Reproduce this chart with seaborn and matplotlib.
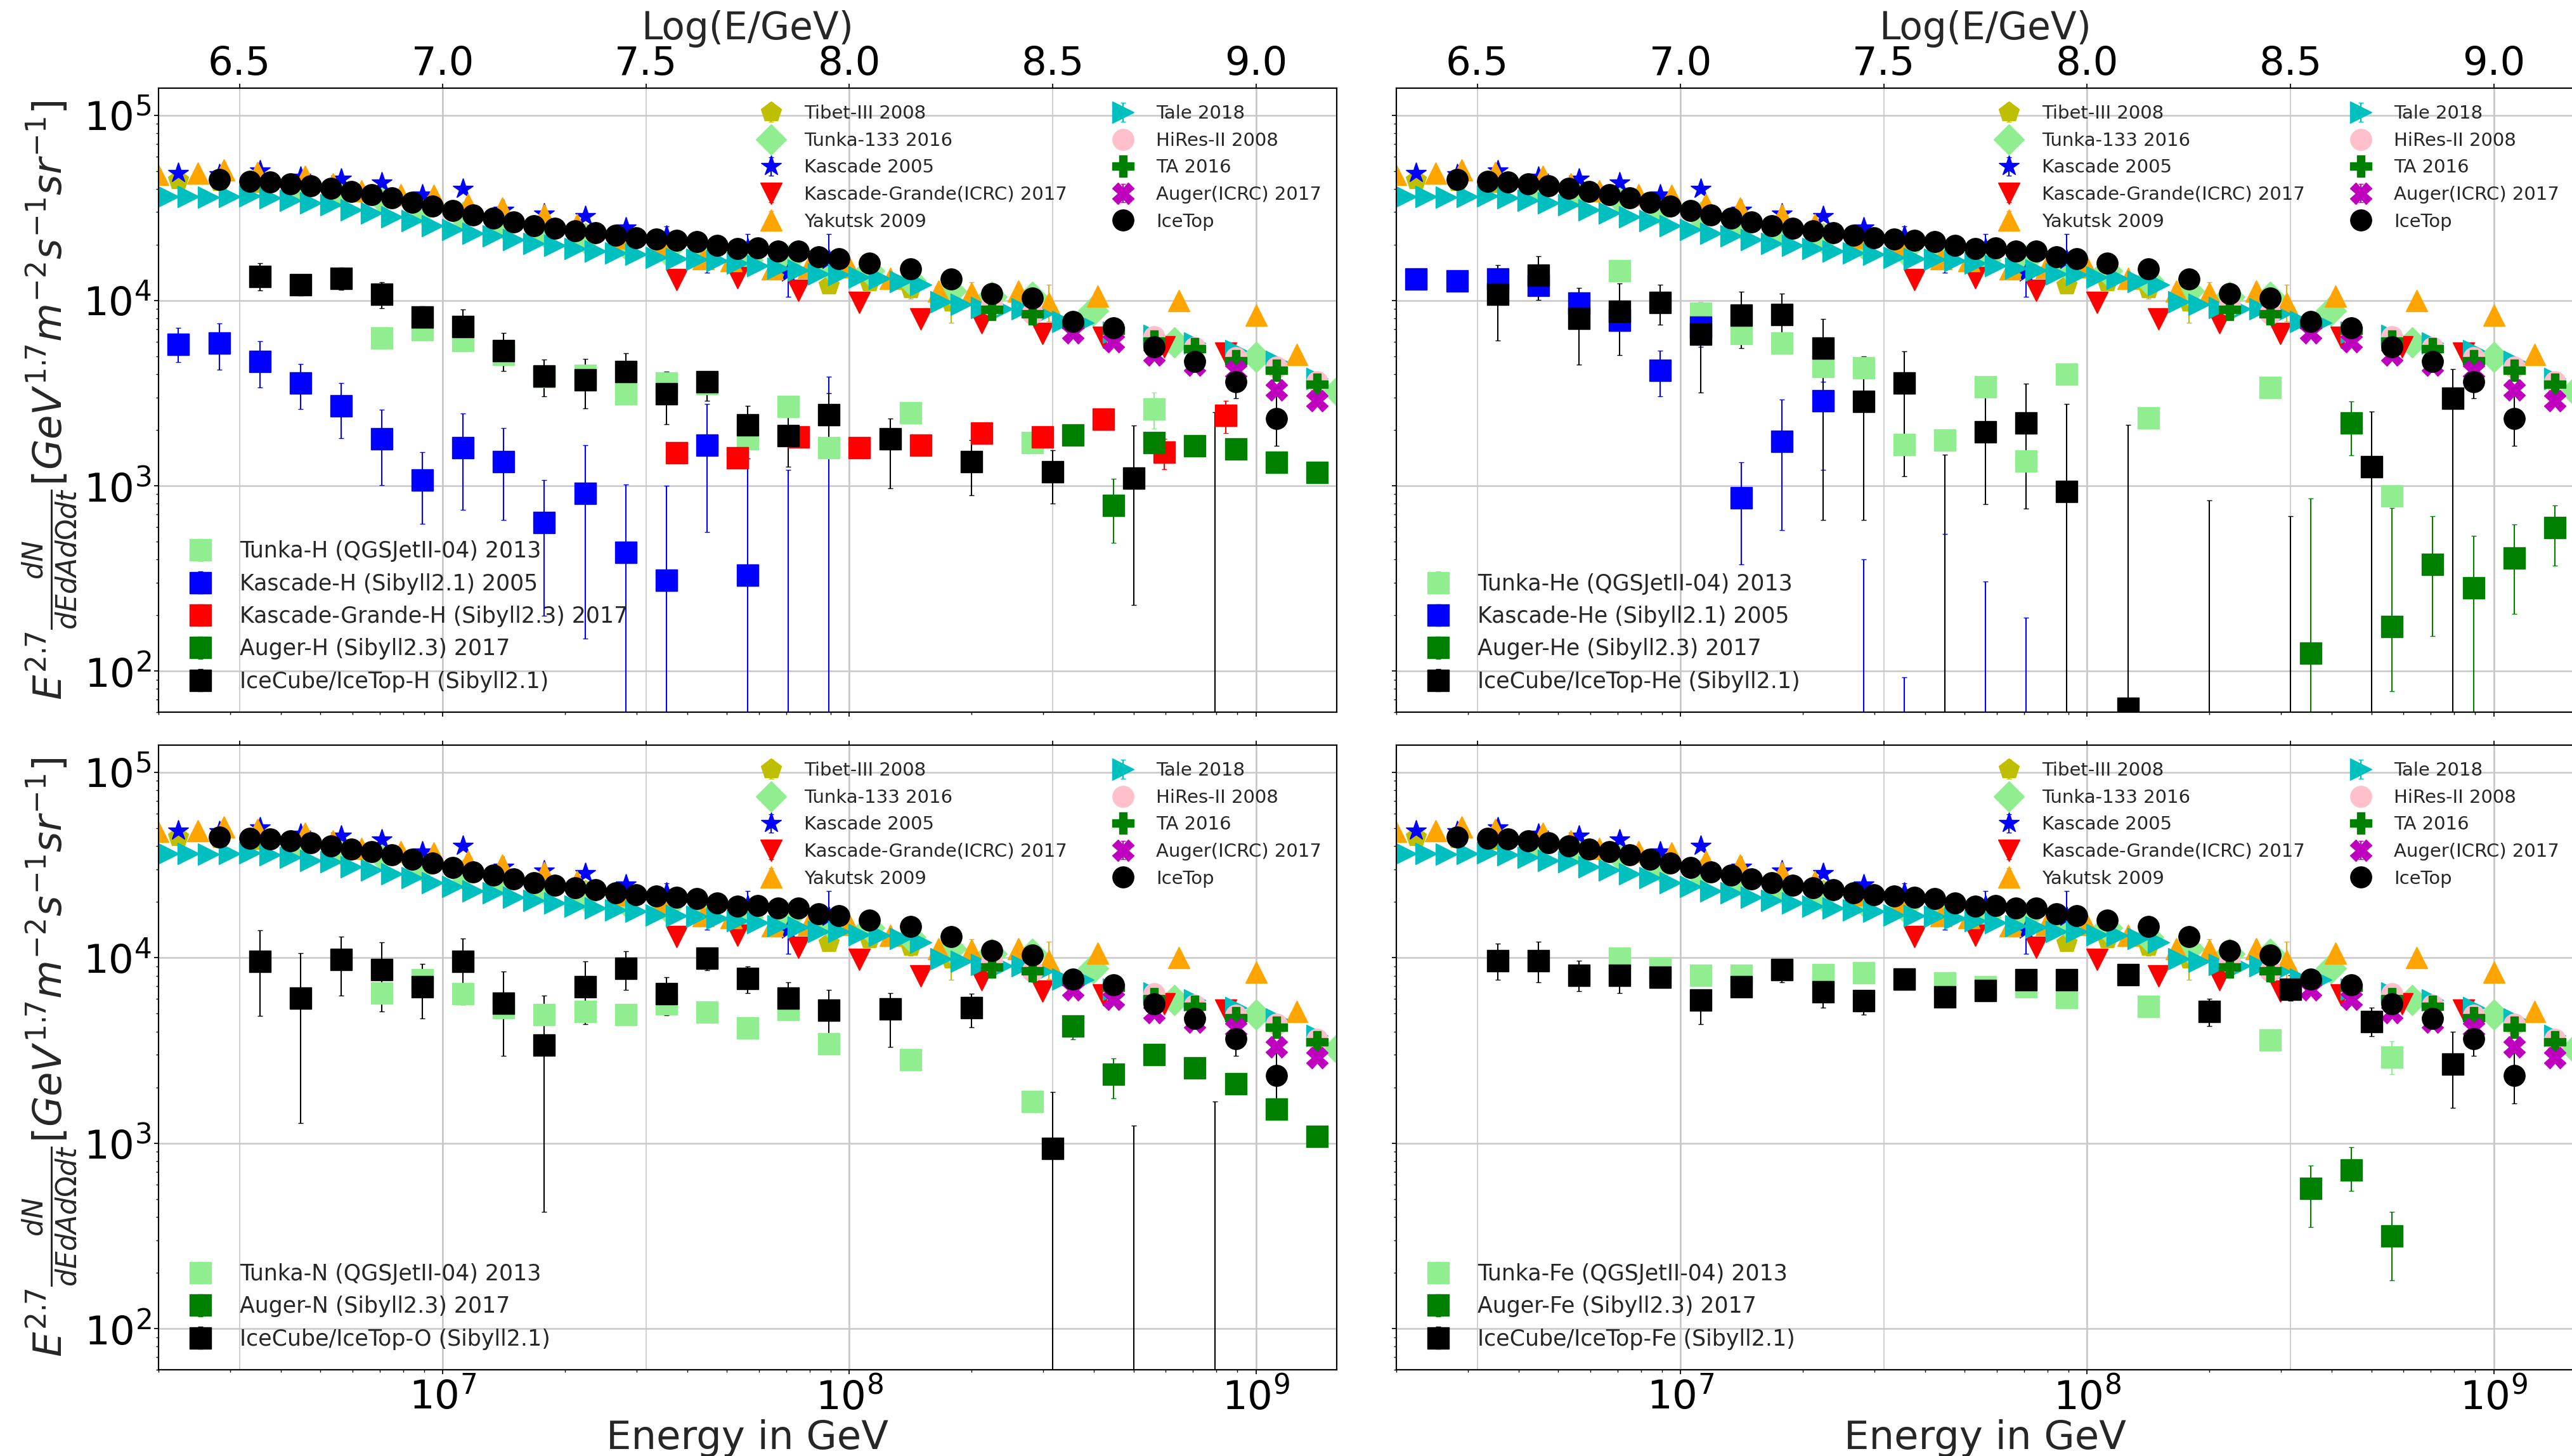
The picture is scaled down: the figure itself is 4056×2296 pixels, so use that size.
import numpy as np
import matplotlib
matplotlib.use("Agg")
import matplotlib.pyplot as plt
from matplotlib.ticker import FormatStrFormatter
import seaborn as sns

# ------------------------------------------------------------------
# All-particle spectra.  lgE = log10(E/GeV), lgF = log10(E^2.7 dN/dE...)
# ------------------------------------------------------------------
tibet_lgE = [6.35, 6.45, 6.55, 6.65, 6.75, 6.85, 6.95, 7.05, 7.15, 7.25,
             7.35, 7.45, 7.55, 7.65, 7.75, 7.85, 7.95, 8.05, 8.15, 8.25]
tibet_lgF = [4.65, 4.64, 4.63, 4.61, 4.59, 4.56, 4.52, 4.47, 4.43, 4.40,
             4.36, 4.32, 4.29, 4.22, 4.20, 4.17, 4.08, 4.10, 4.06, 3.99]
tibet_err = [0.01, 0.01, 0.01, 0.01, 0.01, 0.01, 0.01, 0.01, 0.01, 0.01,
             0.01, 0.01, 0.01, 0.01, 0.01, 0.01, 0.02, 0.03, 0.05, 0.11]

tunka133_lgE = [6.65, 6.75, 6.85, 6.95, 7.05, 7.15, 7.25, 7.35, 7.45, 7.55,
                7.65, 7.75, 7.85, 7.95, 8.05, 8.15, 8.25, 8.35, 8.45, 8.60,
                8.80, 9.00, 9.20]
tunka133_lgF = [4.61, 4.58, 4.55, 4.49, 4.45, 4.41, 4.37, 4.33, 4.30, 4.27,
                4.25, 4.22, 4.22, 4.19, 4.16, 4.11, 4.05, 4.02, 4.02, 3.944,
                3.773, 3.694, 3.51]

kascade_lgE = [6.35, 6.45, 6.55, 6.65, 6.75, 6.85, 6.95, 7.05, 7.15, 7.25,
               7.35, 7.45, 7.55, 7.65, 7.75, 7.85, 7.95]
kascade_lgF = [4.686, 4.68, 4.70, 4.667, 4.658, 4.637, 4.57, 4.603, 4.49, 4.468,
               4.454, 4.393, 4.35, 4.211, 4.28, 4.15, 4.22]
kascade_err = [0.01, 0.01, 0.01, 0.01, 0.01, 0.01, 0.01, 0.01, 0.01, 0.01,
               0.02, 0.02, 0.05, 0.06, 0.08, 0.13, 0.14]

kg_lgE = [7.575, 7.725, 7.875, 8.025, 8.175, 8.325, 8.475, 8.625, 8.775, 8.925]
kg_lgF = [4.113, 4.122, 4.055, 3.99, 3.90, 3.88, 3.82, 3.80, 3.75, 3.716]
kg_err = [0.01, 0.01, 0.01, 0.01, 0.01, 0.01, 0.01, 0.02, 0.02, 0.03]

yakutsk_lgE = [6.30, 6.397, 6.462, 6.545, 6.662, 6.73, 6.80, 6.896, 6.978, 7.062,
               7.147, 7.25, 7.33, 7.44, 7.54, 7.64, 7.71, 7.81, 7.90, 8.00,
               8.10, 8.22, 8.30, 8.415, 8.49, 8.61, 8.81, 9.00, 9.10]
yakutsk_lgF = [4.681, 4.686, 4.706, 4.69, 4.672, 4.63, 4.59, 4.57, 4.566, 4.52,
               4.50, 4.46, 4.41, 4.34, 4.29, 4.225, 4.215, 4.17, 4.177, 4.18,
               4.12, 4.05, 4.04, 4.05, 3.985, 4.024, 4.00, 3.922, 3.71]
yakutsk_err = [0.01, 0.01, 0.01, 0.01, 0.01, 0.01, 0.01, 0.01, 0.01, 0.01,
               0.01, 0.01, 0.01, 0.01, 0.01, 0.01, 0.01, 0.01, 0.01, 0.01,
               0.02, 0.03, 0.06, 0.03, 0.10, 0.03, 0.03, 0.03, 0.03]

tale_lgE = [6.325, 6.375, 6.425, 6.475, 6.525, 6.575, 6.625, 6.675, 6.725, 6.775,
            6.825, 6.875, 6.925, 6.975, 7.025, 7.075, 7.125, 7.175, 7.225, 7.275,
            7.325, 7.375, 7.425, 7.475, 7.525, 7.575, 7.625, 7.675, 7.725, 7.775,
            7.825, 7.875, 7.925, 7.975, 8.025, 8.075, 8.125, 8.175, 8.225, 8.275,
            8.325, 8.375, 8.425, 8.475, 8.525, 8.575, 8.65, 8.75, 8.85, 8.95,
            9.05, 9.15]
tale_lgF = [4.561, 4.561, 4.559, 4.562, 4.564, 4.555, 4.542, 4.525, 4.517, 4.490,
            4.473, 4.453, 4.430, 4.405, 4.384, 4.361, 4.348, 4.327, 4.308, 4.296,
            4.279, 4.268, 4.256, 4.250, 4.231, 4.226, 4.222, 4.214, 4.200, 4.188,
            4.173, 4.165, 4.142, 4.140, 4.125, 4.120, 4.102, 4.084, 3.993, 3.980,
            3.962, 3.956, 3.956, 3.926, 3.885, 3.880, 3.830, 3.810, 3.770, 3.730,
            3.670, 3.580]

hires_lgE = [8.35, 8.45, 8.55, 8.65, 8.75, 8.85, 8.95, 9.05, 9.15]
hires_lgF = [3.976, 3.93, 3.88, 3.83, 3.805, 3.745, 3.69, 3.64, 3.56]

ta_lgE = [8.35, 8.45, 8.55, 8.65, 8.75, 8.85, 8.95, 9.05, 9.15]
ta_lgF = [3.95, 3.928, 3.87, 3.84, 3.78, 3.738, 3.675, 3.624, 3.546]

auger_lgE = [8.55, 8.65, 8.75, 8.85, 8.95, 9.05, 9.15]
auger_lgF = [3.826, 3.776, 3.704, 3.651, 3.619, 3.518, 3.46]
auger_err = [0.01, 0.01, 0.01, 0.01, 0.015, 0.02, 0.025]

icetop_lgE = [6.45, 6.525, 6.575, 6.625, 6.675, 6.725, 6.775, 6.825, 6.875, 6.925,
              6.975, 7.025, 7.075, 7.125, 7.175, 7.225, 7.275, 7.325, 7.375, 7.425,
              7.475, 7.525, 7.575, 7.625, 7.675, 7.725, 7.775, 7.825, 7.875, 7.925,
              7.975, 8.05, 8.15, 8.25, 8.35, 8.45, 8.55, 8.65, 8.75, 8.85,
              8.95, 9.05]
icetop_lgF = [4.652, 4.644, 4.639, 4.629, 4.618, 4.604, 4.587, 4.571, 4.553, 4.530,
              4.510, 4.485, 4.462, 4.444, 4.423, 4.405, 4.391, 4.376, 4.365, 4.351,
              4.339, 4.331, 4.325, 4.317, 4.296, 4.279, 4.282, 4.266, 4.266, 4.237,
              4.227, 4.202, 4.169, 4.115, 4.038, 4.013, 3.886, 3.852, 3.751, 3.672,
              3.562, 3.364]
icetop_err = [0.0, 0.0, 0.0, 0.0, 0.0, 0.0, 0.0, 0.0, 0.0, 0.0,
              0.0, 0.0, 0.0, 0.0, 0.0, 0.0, 0.0, 0.0, 0.0, 0.0,
              0.0, 0.0, 0.0, 0.0, 0.0, 0.0, 0.0, 0.0, 0.0, 0.0,
              0.0, 0.0, 0.0, 0.01, 0.01, 0.01, 0.02, 0.02, 0.03, 0.04,
              0.09, 0.15]

# ------------------------------------------------------------------
# Mass-group spectra: centre, upper and lower ends of the error bar (log10)
# ------------------------------------------------------------------
# proton
tunkaH_lgE = [6.85, 6.95, 7.05, 7.15, 7.25, 7.35, 7.45, 7.55, 7.65, 7.75, 7.85, 7.95, 8.15, 8.45, 8.75]
tunkaH_lgF = [3.797, 3.843, 3.783, 3.709, 3.59, 3.595, 3.497, 3.555, 3.55, 3.254, 3.427, 3.204, 3.395, 3.233, 3.415]
tunkaH_hi = [3.82, 3.865, 3.805, 3.73, 3.61, 3.615, 3.52, 3.575, 3.57, 3.28, 3.45, 3.23, 3.42, 3.26, 3.502]
tunkaH_lo = [3.775, 3.82, 3.76, 3.69, 3.57, 3.575, 3.475, 3.535, 3.53, 3.23, 3.40, 3.18, 3.37, 3.21, 3.308]

kasH_lgE = [6.35, 6.45, 6.55, 6.65, 6.75, 6.85, 6.95, 7.05, 7.15, 7.25, 7.35, 7.45, 7.55, 7.65, 7.75, 7.85, 7.95]
kasH_lgF = [3.764, 3.77, 3.672, 3.553, 3.43, 3.254, 3.03, 3.204, 3.13, 2.80, 2.958, 2.642, 2.49, 3.219, 2.516, 1.5, 1.5]
kasH_hi = [3.852, 3.877, 3.78, 3.658, 3.555, 3.412, 3.182, 3.389, 3.31, 3.03, 3.22, 3.006, 3.0, 3.44, 3.146, 3.087, 3.59]
kasH_lo = [3.667, 3.627, 3.529, 3.415, 3.257, 3.003, 2.795, 2.87, 2.815, 2.30, 2.175, 0.0, 0.0, 2.749, 0.0, 0.0, 0.0]

kgH_lgE = [7.575, 7.725, 7.875, 8.025, 8.175, 8.325, 8.475, 8.625, 8.775, 8.925]
kgH_lgF = [3.179, 3.15, 3.262, 3.205, 3.218, 3.285, 3.262, 3.36, 3.181, 3.38]
kgH_hi = [3.20, 3.17, 3.28, 3.225, 3.24, 3.305, 3.28, 3.38, 3.254, 3.458]
kgH_lo = [3.16, 3.13, 3.24, 3.185, 3.20, 3.265, 3.24, 3.34, 3.089, 3.284]

augH_lgE = [8.55, 8.65, 8.75, 8.85, 8.95, 9.05, 9.15]
augH_lgF = [3.275, 2.894, 3.232, 3.215, 3.199, 3.126, 3.071]
augH_hi = [3.30, 3.037, 3.25, 3.235, 3.215, 3.145, 3.09]
augH_lo = [3.22, 2.692, 3.21, 3.195, 3.18, 3.105, 3.05]

icH_lgE = [6.55, 6.65, 6.75, 6.85, 6.95, 7.05, 7.15, 7.25, 7.35, 7.45,
           7.55, 7.65, 7.75, 7.85, 7.95, 8.1, 8.3, 8.5, 8.7, 8.9]
icH_lgF = [4.131, 4.086, 4.12, 4.034, 3.909, 3.86, 3.73, 3.592, 3.57, 3.616,
           3.498, 3.56, 3.33, 3.271, 3.384, 3.253, 3.129, 3.077, 3.042, 1.5]
icH_hi = [4.20, 4.139, 4.177, 4.10, 3.969, 3.95, 3.824, 3.68, 3.686, 3.716,
          3.616, 3.61, 3.432, 3.375, 3.50, 3.363, 3.245, 3.193, 3.326, 3.398]
icH_lo = [4.054, 4.028, 4.057, 3.96, 3.85, 3.77, 3.619, 3.483, 3.418, 3.52,
          3.333, 3.46, 3.20, 3.104, 3.18, 2.985, 2.95, 2.905, 2.358, 0.0]

# helium
tunkaHe_lgE = [6.85, 7.05, 7.15, 7.25, 7.35, 7.45, 7.55, 7.65, 7.75, 7.85, 7.95, 8.15, 8.45, 8.75]
tunkaHe_lgF = [4.16, 3.93, 3.82, 3.77, 3.642, 3.638, 3.224, 3.247, 3.534, 3.135, 3.604, 3.366, 3.53, 2.945]
tunkaHe_hi = [4.18, 3.95, 3.84, 3.79, 3.66, 3.66, 3.245, 3.27, 3.555, 3.16, 3.625, 3.39, 3.55, 3.0]
tunkaHe_lo = [4.14, 3.91, 3.80, 3.75, 3.62, 3.62, 3.20, 3.225, 3.51, 3.11, 3.58, 3.34, 3.51, 2.89]

kasHe_lgE = [6.35, 6.45, 6.55, 6.65, 6.75, 6.85, 6.95, 7.05, 7.15, 7.25, 7.35, 7.45, 7.55, 7.65, 7.75, 7.85]
kasHe_lgF = [4.117, 4.105, 4.115, 4.083, 3.985, 3.895, 3.622, 3.855, 2.934, 3.241, 3.458, 1.5, 1.5, 1.5, 1.5, 1.5]
kasHe_hi = [4.14, 4.13, 4.14, 4.11, 4.01, 3.92, 3.728, 3.88, 3.126, 3.465, 3.56, 2.603, 1.965, 2.74, 2.484, 2.288]
kasHe_lo = [4.09, 4.08, 4.09, 4.055, 3.96, 3.86, 3.484, 3.75, 2.574, 2.759, 3.087, 0.0, 0.0, 0.0, 0.0, 0.0]

augHe_lgE = [8.55, 8.65, 8.75, 8.85, 8.95, 9.05, 9.15]
augHe_lgF = [2.097, 3.339, 2.239, 2.575, 2.45, 2.609, 2.774]
augHe_hi = [2.93, 3.457, 2.88, 2.836, 2.729, 2.792, 2.893]
augHe_lo = [0.0, 3.164, 1.89, 2.188, 0.0, 2.308, 2.568]

icHe_lgE = [6.55, 6.65, 6.75, 6.85, 6.95, 7.05, 7.15, 7.25, 7.35, 7.45,
            7.55, 7.65, 7.75, 7.85, 7.95, 8.1, 8.3, 8.5, 8.7, 8.9]
icHe_lgF = [4.034, 4.136, 3.904, 3.94, 3.99, 3.818, 3.921, 3.924, 3.742, 3.455,
            3.556, 1.5, 3.29, 3.34, 2.97, 1.80, 1.5, 1.5, 3.103, 3.474]
icHe_hi = [4.19, 4.238, 4.067, 4.092, 4.084, 3.99, 4.047, 4.037, 3.90, 3.698,
           3.726, 3.168, 3.49, 3.55, 3.441, 3.33, 2.922, 2.835, 3.40, 3.63]
icHe_lo = [3.783, 4.003, 3.655, 3.706, 3.869, 3.504, 3.742, 3.80, 2.815, 2.814,
           3.05, 0.0, 2.90, 2.877, 0.0, 0.0, 0.0, 0.0, 0.0, 0.0]

# nitrogen / oxygen
tunkaN_lgE = [6.85, 6.95, 7.05, 7.15, 7.25, 7.35, 7.45, 7.55, 7.65, 7.75, 7.85, 7.95, 8.15, 8.45]
tunkaN_lgF = [3.81, 3.88, 3.805, 3.73, 3.693, 3.711, 3.693, 3.75, 3.706, 3.622, 3.719, 3.536, 3.451, 3.224]
tunkaN_hi = [3.83, 3.90, 3.825, 3.75, 3.713, 3.731, 3.713, 3.77, 3.726, 3.642, 3.739, 3.556, 3.471, 3.25]
tunkaN_lo = [3.79, 3.86, 3.785, 3.71, 3.673, 3.691, 3.673, 3.73, 3.686, 3.602, 3.699, 3.516, 3.431, 3.20]

augN_lgE = [8.55, 8.65, 8.75, 8.85, 8.95, 9.05, 9.15]
augN_lgF = [3.633, 3.372, 3.479, 3.406, 3.32, 3.185, 3.036]
augN_hi = [3.66, 3.458, 3.50, 3.425, 3.34, 3.205, 3.055]
augN_lo = [3.56, 3.242, 3.455, 3.385, 3.30, 3.165, 3.015]

icO_lgE = [6.55, 6.65, 6.75, 6.85, 6.95, 7.05, 7.15, 7.25, 7.35, 7.45,
           7.55, 7.65, 7.75, 7.85, 7.95, 8.1, 8.3, 8.5, 8.7, 8.9]
icO_lgF = [3.979, 3.781, 3.99, 3.935, 3.844, 3.979, 3.755, 3.529, 3.844, 3.943,
           3.805, 3.997, 3.888, 3.781, 3.716, 3.724, 3.732, 2.971, 1.5, 1.5]
icO_hi = [4.148, 4.026, 4.115, 4.083, 3.966, 4.104, 3.924, 3.797, 3.979, 4.034,
          3.896, 4.044, 3.953, 3.867, 3.828, 3.81, 3.805, 3.276, 3.094, 3.224]
icO_lo = [3.685, 3.107, 3.797, 3.711, 3.674, 3.747, 3.471, 2.63, 3.643, 3.828,
          3.688, 3.932, 3.81, 3.674, 3.581, 3.518, 3.625, 0.0, 0.0, 0.0]

# iron
tunkaFe_lgE = [6.85, 6.95, 7.05, 7.15, 7.25, 7.35, 7.45, 7.55, 7.65, 7.75, 7.85, 7.95, 8.15, 8.45, 8.75]
tunkaFe_lgF = [3.998, 3.943, 3.905, 3.905, 3.935, 3.91, 3.918, 3.885, 3.863, 3.843, 3.843, 3.785, 3.738, 3.555, 3.465]
tunkaFe_hi = [4.018, 3.963, 3.925, 3.925, 3.955, 3.93, 3.938, 3.905, 3.883, 3.863, 3.863, 3.805, 3.758, 3.575, 3.55]
tunkaFe_lo = [3.978, 3.923, 3.885, 3.885, 3.915, 3.89, 3.898, 3.865, 3.843, 3.823, 3.823, 3.765, 3.718, 3.535, 3.37]

augFe_lgE = [8.55, 8.65, 8.75]
augFe_lgF = [2.755, 2.855, 2.498]
augFe_hi = [2.88, 2.98, 2.63]
augFe_lo = [2.548, 2.743, 2.26]

icFe_lgE = [6.55, 6.65, 6.75, 6.85, 6.95, 7.05, 7.15, 7.25, 7.35, 7.45,
            7.55, 7.65, 7.75, 7.85, 7.95, 8.1, 8.3, 8.5, 8.7, 8.9]
icFe_lgF = [3.985, 3.985, 3.905, 3.905, 3.893, 3.773, 3.843, 3.935, 3.815, 3.768,
            3.885, 3.788, 3.823, 3.88, 3.88, 3.91, 3.71, 3.83, 3.655, 3.425]
icFe_hi = [4.075, 4.085, 3.985, 3.955, 3.943, 3.823, 3.893, 3.99, 3.868, 3.818,
           3.92, 3.83, 3.86, 3.93, 3.93, 3.95, 3.78, 3.905, 3.73, 3.60]
icFe_lo = [3.88, 3.868, 3.818, 3.81, 3.843, 3.643, 3.793, 3.868, 3.73, 3.693,
           3.85, 3.75, 3.79, 3.84, 3.84, 3.87, 3.63, 3.768, 3.575, 3.192]

top_ticks = [6.5, 7.0, 7.5, 8.0, 8.5, 9.0]
E_RANGE = (2.0e6, 1.58e9)
F_RANGE = (60.0, 1.4e5)

# ------------------------------------------------------------------
sns.set_theme(style="ticks", color_codes=False, rc={
    "axes.edgecolor": "black",
    "axes.linewidth": 1.5,
    "grid.color": "#c0c0c0",
    "xtick.color": "black",
    "ytick.color": "black",
    "xtick.direction": "out",
    "ytick.direction": "out",
    "xtick.major.size": 5,
    "ytick.major.size": 5,
    "xtick.minor.size": 3,
    "ytick.minor.size": 3,
    "lines.linewidth": 1.5,
})
plt.rcParams["font.family"] = ["DejaVu Sans"]
plt.rcParams["mathtext.fontset"] = "dejavusans"

# classic single-letter colours
C_Y = "#bfbf00"
C_C = "#00bfbf"
C_M = "#bf00bf"
C_G = "#008000"

TICK_FS = 45
LABEL_FS = 45
MS = 24


def plot_sym(ax, lgE, lgF, err=None, **kw):
    E = 10 ** np.asarray(lgE)
    F = 10 ** np.asarray(lgF)
    yerr = None
    if err is not None:
        e = np.asarray(err)
        yerr = [F - 10 ** (np.asarray(lgF) - e), 10 ** (np.asarray(lgF) + e) - F]
    return ax.errorbar(E, F, yerr=yerr, linestyle="none", markersize=MS,
                       capsize=3, elinewidth=1.5, **kw)


def plot_band(ax, lgE, lgF, lo, hi, **kw):
    E = 10 ** np.asarray(lgE)
    F = 10 ** np.asarray(lgF)
    yerr = [F - 10 ** np.asarray(lo), 10 ** np.asarray(hi) - F]
    return ax.errorbar(E, F, yerr=yerr, linestyle="none", marker="s",
                       markersize=MS, capsize=3, elinewidth=1.5, **kw)


def all_particle(ax):
    h = []
    h.append(plot_sym(ax, tibet_lgE, tibet_lgF, tibet_err, marker="p", color=C_Y, label="Tibet-III 2008"))
    h.append(plot_sym(ax, tunka133_lgE, tunka133_lgF, None, marker="D", color="lightgreen", label="Tunka-133 2016"))
    h.append(plot_sym(ax, kascade_lgE, kascade_lgF, kascade_err, marker="*", color="blue", label="Kascade 2005"))
    h.append(plot_sym(ax, kg_lgE, kg_lgF, kg_err, marker="v", color="red", label="Kascade-Grande(ICRC) 2017"))
    h.append(plot_sym(ax, yakutsk_lgE, yakutsk_lgF, yakutsk_err, marker="^", color="orange", label="Yakutsk 2009"))
    h.append(plot_sym(ax, tale_lgE, tale_lgF, [0.01] * len(tale_lgE), marker=">", color=C_C, label="Tale 2018"))
    h.append(plot_sym(ax, hires_lgE, hires_lgF, None, marker="o", color="pink", label="HiRes-II 2008"))
    h.append(plot_sym(ax, ta_lgE, ta_lgF, None, marker="P", color=C_G, label="TA 2016"))
    h.append(plot_sym(ax, auger_lgE, auger_lgF, auger_err, marker="X", color=C_M, label="Auger(ICRC) 2017"))
    h.append(plot_sym(ax, icetop_lgE, icetop_lgF, icetop_err, marker="o", color="black", label="IceTop"))
    return h


panels = [
    # (position, composition series, top row?, left column?)
    ([250 / 4056, 1173 / 2296, 1858 / 4056, 984 / 2296], [
        (tunkaH_lgE, tunkaH_lgF, tunkaH_lo, tunkaH_hi, "lightgreen", "Tunka-H (QGSJetII-04) 2013"),
        (kasH_lgE, kasH_lgF, kasH_lo, kasH_hi, "blue", "Kascade-H (Sibyll2.1) 2005"),
        (kgH_lgE, kgH_lgF, kgH_lo, kgH_hi, "red", "Kascade-Grande-H (Sibyll2.3) 2017"),
        (augH_lgE, augH_lgF, augH_lo, augH_hi, C_G, "Auger-H (Sibyll2.3) 2017"),
        (icH_lgE, icH_lgF, icH_lo, icH_hi, "black", "IceCube/IceTop-H (Sibyll2.1)"),
    ], True, True),
    ([2202 / 4056, 1173 / 2296, 1858 / 4056, 984 / 2296], [
        (tunkaHe_lgE, tunkaHe_lgF, tunkaHe_lo, tunkaHe_hi, "lightgreen", "Tunka-He (QGSJetII-04) 2013"),
        (kasHe_lgE, kasHe_lgF, kasHe_lo, kasHe_hi, "blue", "Kascade-He (Sibyll2.1) 2005"),
        (augHe_lgE, augHe_lgF, augHe_lo, augHe_hi, C_G, "Auger-He (Sibyll2.3) 2017"),
        (icHe_lgE, icHe_lgF, icHe_lo, icHe_hi, "black", "IceCube/IceTop-He (Sibyll2.1)"),
    ], True, False),
    ([250 / 4056, 136 / 2296, 1858 / 4056, 985 / 2296], [
        (tunkaN_lgE, tunkaN_lgF, tunkaN_lo, tunkaN_hi, "lightgreen", "Tunka-N (QGSJetII-04) 2013"),
        (augN_lgE, augN_lgF, augN_lo, augN_hi, C_G, "Auger-N (Sibyll2.3) 2017"),
        (icO_lgE, icO_lgF, icO_lo, icO_hi, "black", "IceCube/IceTop-O (Sibyll2.1)"),
    ], False, True),
    ([2202 / 4056, 136 / 2296, 1858 / 4056, 985 / 2296], [
        (tunkaFe_lgE, tunkaFe_lgF, tunkaFe_lo, tunkaFe_hi, "lightgreen", "Tunka-Fe (QGSJetII-04) 2013"),
        (augFe_lgE, augFe_lgF, augFe_lo, augFe_hi, C_G, "Auger-Fe (Sibyll2.3) 2017"),
        (icFe_lgE, icFe_lgF, icFe_lo, icFe_hi, "black", "IceCube/IceTop-Fe (Sibyll2.1)"),
    ], False, False),
]

fig = plt.figure(figsize=(40.56, 22.96), dpi=100)
fig.patch.set_facecolor("white")

ylabel = r"$E^{2.7}\frac{dN}{dEdAd\Omega dt}[GeV^{1.7}m^{-2}s^{-1}sr^{-1}]$"

for pos, comp, is_top, is_left in panels:
    ax = fig.add_axes(pos)
    ax.set_xscale("log")
    ax.set_yscale("log")

    h_all = all_particle(ax)
    h_comp = []
    for lgE, lgF, lo, hi, col, lab in comp:
        h_comp.append(plot_band(ax, lgE, lgF, lo, hi, color=col, label=lab))

    ax.set_xlim(*E_RANGE)
    ax.set_ylim(*F_RANGE)
    ax.grid(True, which="major", axis="both", linewidth=1.8, color="#c8c8c8")
    ax.tick_params(axis="both", which="major", labelsize=TICK_FS)
    ax.patch.set_visible(False)

    if is_top:
        ax.tick_params(axis="x", which="both", labelbottom=False)
    else:
        ax.set_xlabel("Energy in GeV", fontsize=LABEL_FS, labelpad=2)
    if is_left:
        ax.set_ylabel(ylabel, fontsize=LABEL_FS, labelpad=4)
    else:
        ax.tick_params(axis="y", which="both", labelleft=False)

    # upper axis in log10(E/GeV)
    tw = ax.twiny()
    tw.set_xlim(np.log10(E_RANGE[0]), np.log10(E_RANGE[1]))
    tw.set_xticks(top_ticks)
    tw.xaxis.set_major_formatter(FormatStrFormatter("%.1f"))
    tw.grid(True, axis="x", linewidth=1.2, color="#c8c8c8")
    tw.tick_params(axis="x", labelsize=TICK_FS, pad=1)
    tw.set_zorder(ax.get_zorder() - 1)
    if is_top:
        tw.set_xlabel("Log(E/GeV)", fontsize=43, labelpad=6)
    else:
        tw.tick_params(axis="x", labeltop=False)

    leg1 = ax.legend(handles=h_all, loc="upper left", bbox_to_anchor=(0.49, 1.0),
                     ncol=2, frameon=False, fontsize=21)
    ax.add_artist(leg1)
    ax.legend(handles=h_comp, loc="lower left", frameon=False, fontsize=25)

fig.savefig("out.png", dpi=100, facecolor="white")
